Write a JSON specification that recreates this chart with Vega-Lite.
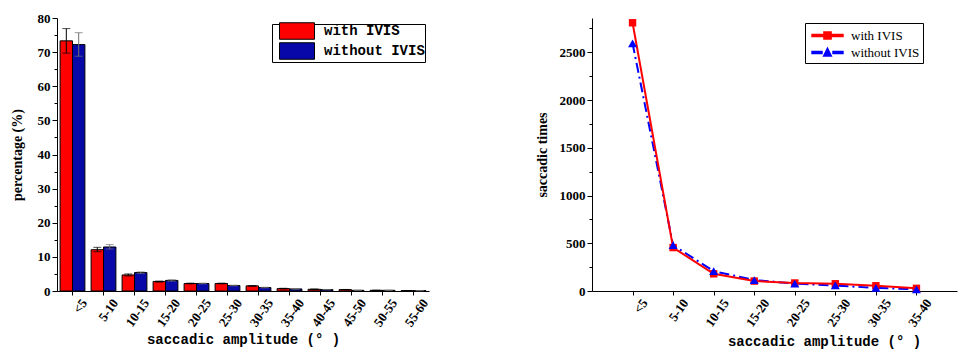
{
  "$schema": "https://vega.github.io/schema/vega-lite/v6.json",
  "background": "white",
  "padding": {"left": 10, "top": 12, "right": 2, "bottom": 0},
  "config": {"view": {"stroke": null}, "axis": {"labelOverlap": false}},
  "spacing": 104,
  "resolve": {"scale": {"color": "independent"}, "legend": {"color": "independent"}},
  "datasets": {
    "pct": [
      {"cat": "<5", "group": "with IVIS", "value": 73.3, "lo": 69.7, "hi": 76.9},
      {"cat": "<5", "group": "without IVIS", "value": 72.2, "lo": 68.8, "hi": 75.7},
      {"cat": "5-10", "group": "with IVIS", "value": 12.1, "lo": 11.5, "hi": 12.8},
      {"cat": "5-10", "group": "without IVIS", "value": 12.9, "lo": 12.3, "hi": 13.6},
      {"cat": "10-15", "group": "with IVIS", "value": 4.7, "lo": 4.4, "hi": 5.0},
      {"cat": "10-15", "group": "without IVIS", "value": 5.4, "lo": 5.1, "hi": 5.6},
      {"cat": "15-20", "group": "with IVIS", "value": 2.8, "lo": 2.6, "hi": 2.9},
      {"cat": "15-20", "group": "without IVIS", "value": 3.1, "lo": 2.9, "hi": 3.3},
      {"cat": "20-25", "group": "with IVIS", "value": 2.2, "lo": 2.1, "hi": 2.3},
      {"cat": "20-25", "group": "without IVIS", "value": 2.2, "lo": 2.1, "hi": 2.3},
      {"cat": "25-30", "group": "with IVIS", "value": 2.2, "lo": 2.1, "hi": 2.3},
      {"cat": "25-30", "group": "without IVIS", "value": 1.6, "lo": 1.5, "hi": 1.7},
      {"cat": "30-35", "group": "with IVIS", "value": 1.5, "lo": 1.4, "hi": 1.6},
      {"cat": "30-35", "group": "without IVIS", "value": 1.0, "lo": 0.9, "hi": 1.1},
      {"cat": "35-40", "group": "with IVIS", "value": 0.7, "lo": 0.6, "hi": 0.8},
      {"cat": "35-40", "group": "without IVIS", "value": 0.6, "lo": 0.5, "hi": 0.7},
      {"cat": "40-45", "group": "with IVIS", "value": 0.5, "lo": 0.4, "hi": 0.6},
      {"cat": "40-45", "group": "without IVIS", "value": 0.4, "lo": 0.35, "hi": 0.45},
      {"cat": "45-50", "group": "with IVIS", "value": 0.4, "lo": 0.35, "hi": 0.45},
      {"cat": "45-50", "group": "without IVIS", "value": 0.2, "lo": 0.15, "hi": 0.25},
      {"cat": "50-55", "group": "with IVIS", "value": 0.2, "lo": 0.15, "hi": 0.25},
      {"cat": "50-55", "group": "without IVIS", "value": 0.2, "lo": 0.15, "hi": 0.25},
      {"cat": "55-60", "group": "with IVIS", "value": 0.1, "lo": 0.05, "hi": 0.15},
      {"cat": "55-60", "group": "without IVIS", "value": 0.1, "lo": 0.05, "hi": 0.15}
    ],
    "times": [
      {"cat": "<5", "group": "with IVIS", "value": 2810},
      {"cat": "5-10", "group": "with IVIS", "value": 455},
      {"cat": "10-15", "group": "with IVIS", "value": 180},
      {"cat": "15-20", "group": "with IVIS", "value": 104},
      {"cat": "20-25", "group": "with IVIS", "value": 84},
      {"cat": "25-30", "group": "with IVIS", "value": 76},
      {"cat": "30-35", "group": "with IVIS", "value": 55},
      {"cat": "35-40", "group": "with IVIS", "value": 28},
      {"cat": "<5", "group": "without IVIS", "value": 2595},
      {"cat": "5-10", "group": "without IVIS", "value": 480},
      {"cat": "10-15", "group": "without IVIS", "value": 208},
      {"cat": "15-20", "group": "without IVIS", "value": 115},
      {"cat": "20-25", "group": "without IVIS", "value": 78},
      {"cat": "25-30", "group": "without IVIS", "value": 58},
      {"cat": "30-35", "group": "without IVIS", "value": 32},
      {"cat": "35-40", "group": "without IVIS", "value": 18}
    ]
  },
  "hconcat": [
    {
      "width": 372,
      "height": 273,
      "data": {"name": "pct"},
      "encoding": {
        "x": {
          "field": "cat", "type": "nominal",
          "sort": ["<5","5-10","10-15","15-20","20-25","25-30","30-35","35-40","40-45","45-50","50-55","55-60"],
          "scale": {"paddingInner": 0.2, "paddingOuter": 0.1},
          "axis": {
            "title": "saccadic amplitude (° )",
            "titleFont": "Liberation Mono", "titleFontSize": 14, "titleFontWeight": "bold", "titleColor": "#000",
            "titlePadding": 4,
            "labelFont": "Liberation Serif", "labelFontSize": 13, "labelFontWeight": "bold", "labelColor": "#000",
            "labelAngle": -55, "labelAlign": "right", "labelBaseline": "middle",
            "labelOffset": 12, "labelPadding": 5,
            "domainColor": "#000", "tickColor": "#000", "tickSize": 4
          }
        },
        "xOffset": {"field": "group", "type": "nominal", "sort": ["with IVIS", "without IVIS"]}
      },
      "layer": [
        {
          "mark": {"type": "bar", "stroke": "#000", "strokeWidth": 1},
          "encoding": {
            "y": {
              "field": "value", "type": "quantitative",
              "scale": {"domain": [0, 80], "nice": false},
              "axis": {
                "title": "percentage (%)",
                "titleFont": "Liberation Serif", "titleFontSize": 14, "titleFontWeight": "bold", "titleColor": "#000",
                "titlePadding": 13,
                "values": [0,5,10,15,20,25,30,35,40,45,50,55,60,65,70,75,80],
                "labelExpr": "datum.value % 10 === 0 ? datum.label : ''",
                "labelOverlap": false, "labelFlush": false,
                "labelFont": "Liberation Serif", "labelFontWeight": "bold", "labelColor": "#000", "labelFontSize": 13,
                "grid": false, "domainColor": "#000", "tickColor": "#000",
                "tickSize": {"condition": {"test": "datum.value % 10 === 0", "value": 5}, "value": 3}
              }
            },
            "color": {
              "field": "group", "type": "nominal",
              "scale": {"domain": ["with IVIS", "without IVIS"], "range": ["#ff0000", "#0808a8"]},
              "legend": {
                "title": null, "orient": "none", "legendX": 215, "legendY": 6,
                "strokeColor": "#000", "fillColor": "#fff", "padding": 0,
                "symbolType": "M-3.5,-1.65H3.5V1.65H-3.5Z", "symbolSize": 100,
                "symbolStrokeColor": "#000", "symbolStrokeWidth": 1,
                "symbolOffset": 18, "labelOffset": 20, "rowPadding": -2,
                "labelFont": "Liberation Mono", "labelFontSize": 14, "labelFontWeight": "bold", "labelColor": "#000"
              }
            }
          }
        },
        {
          "mark": {"type": "rule", "strokeWidth": 1},
          "encoding": {
            "y": {"field": "lo", "type": "quantitative", "scale": {"domain": [0, 80], "nice": false},
              "axis": {
                "title": "percentage (%)",
                "titleFont": "Liberation Serif", "titleFontSize": 14, "titleFontWeight": "bold", "titleColor": "#000",
                "titlePadding": 13,
                "values": [0,5,10,15,20,25,30,35,40,45,50,55,60,65,70,75,80],
                "labelExpr": "datum.value % 10 === 0 ? datum.label : ''",
                "labelOverlap": false, "labelFlush": false,
                "labelFont": "Liberation Serif", "labelFontWeight": "bold", "labelColor": "#000", "labelFontSize": 13,
                "grid": false, "domainColor": "#000", "tickColor": "#000",
                "tickSize": {"condition": {"test": "datum.value % 10 === 0", "value": 5}, "value": 3}
              }},
            "y2": {"field": "hi"},
            "color": {"condition": {"test": "datum.group === 'with IVIS'", "value": "#000"}, "value": "#707070"}
          }
        },
        {
          "mark": {"type": "tick", "orient": "horizontal", "size": 8, "thickness": 1},
          "encoding": {
            "y": {"field": "hi", "type": "quantitative", "scale": {"domain": [0, 80], "nice": false},
              "axis": {
                "title": "percentage (%)",
                "titleFont": "Liberation Serif", "titleFontSize": 14, "titleFontWeight": "bold", "titleColor": "#000",
                "titlePadding": 13,
                "values": [0,5,10,15,20,25,30,35,40,45,50,55,60,65,70,75,80],
                "labelExpr": "datum.value % 10 === 0 ? datum.label : ''",
                "labelOverlap": false, "labelFlush": false,
                "labelFont": "Liberation Serif", "labelFontWeight": "bold", "labelColor": "#000", "labelFontSize": 13,
                "grid": false, "domainColor": "#000", "tickColor": "#000",
                "tickSize": {"condition": {"test": "datum.value % 10 === 0", "value": 5}, "value": 3}
              }},
            "color": {"condition": {"test": "datum.group === 'with IVIS'", "value": "#000"}, "value": "#707070"}
          }
        },
        {
          "mark": {"type": "tick", "orient": "horizontal", "size": 8, "thickness": 1},
          "encoding": {
            "y": {"field": "lo", "type": "quantitative", "scale": {"domain": [0, 80], "nice": false},
              "axis": {
                "title": "percentage (%)",
                "titleFont": "Liberation Serif", "titleFontSize": 14, "titleFontWeight": "bold", "titleColor": "#000",
                "titlePadding": 13,
                "values": [0,5,10,15,20,25,30,35,40,45,50,55,60,65,70,75,80],
                "labelExpr": "datum.value % 10 === 0 ? datum.label : ''",
                "labelOverlap": false, "labelFlush": false,
                "labelFont": "Liberation Serif", "labelFontWeight": "bold", "labelColor": "#000", "labelFontSize": 13,
                "grid": false, "domainColor": "#000", "tickColor": "#000",
                "tickSize": {"condition": {"test": "datum.value % 10 === 0", "value": 5}, "value": 3}
              }},
            "color": {"condition": {"test": "datum.group === 'with IVIS'", "value": "#000"}, "value": "#707070"}
          }
        }
      ]
    },
    {
      "width": 365,
      "height": 273,
      "data": {"name": "times"},
      "encoding": {
        "x": {
          "field": "cat", "type": "ordinal",
          "sort": ["<5","5-10","10-15","15-20","20-25","25-30","30-35","35-40"],
          "scale": {"type": "point", "padding": 1},
          "axis": {
            "title": "saccadic amplitude (° )",
            "titleFont": "Liberation Mono", "titleFontSize": 14, "titleFontWeight": "bold", "titleColor": "#000",
            "titleX": 232, "titleAlign": "center", "titlePadding": 6,
            "labelFont": "Liberation Serif", "labelFontSize": 13, "labelFontWeight": "bold", "labelColor": "#000",
            "labelAngle": -55, "labelAlign": "right", "labelBaseline": "middle",
            "labelOffset": 12, "labelPadding": 5,
            "domainColor": "#000", "tickColor": "#000", "tickSize": 4
          }
        },
        "y": {
          "field": "value", "type": "quantitative",
          "scale": {"domain": [0, 2860], "nice": false},
          "axis": {
            "title": "saccadic times",
            "titleFont": "Liberation Serif", "titleFontSize": 14, "titleFontWeight": "bold", "titleColor": "#000",
            "titlePadding": 10,
            "values": [0,250,500,750,1000,1250,1500,1750,2000,2250,2500,2750],
            "labelExpr": "datum.value % 500 === 0 ? datum.label : ''",
            "labelOverlap": false,
            "format": "d",
            "labelFont": "Liberation Serif", "labelFontSize": 13, "labelFontWeight": "bold", "labelColor": "#000",
            "grid": false, "domainColor": "#000", "tickColor": "#000",
            "tickSize": {"condition": {"test": "datum.value % 500 === 0", "value": 5}, "value": 3}
          }
        },
        "color": {
          "field": "group", "type": "nominal",
          "scale": {"domain": ["with IVIS", "without IVIS"], "range": ["#ff0000", "#0000ff"]},
          "legend": {
            "title": null, "orient": "none", "legendX": 213, "legendY": 5,
            "strokeColor": "#000", "fillColor": "#fff", "padding": 3,
            "symbolSize": 289, "symbolOffset": 10, "labelOffset": 14, "rowPadding": 0,
            "labelFont": "Liberation Serif", "labelFontSize": 13, "labelColor": "#000",
            "encode": {
              "symbols": {
                "update": {
                  "shape": {"signal": "datum.label === 'with IVIS' ? 'M-1.82,-0.12H1.82V0.12H-1.82Z M-0.42,-0.42H0.42V0.42H-0.42Z' : 'M-1.82,-0.12H-0.65V0.12H-1.82Z M0,-0.5L0.45,0.4H-0.45Z M0.65,-0.12H1.82V0.12H0.65Z'"},
                  "fill": {"signal": "datum.label === 'with IVIS' ? '#ff0000' : '#0000ff'"},
                  "stroke": {"value": "transparent"},
                  "opacity": {"value": 1}
                }
              }
            }
          }
        }
      },
      "layer": [
        {
          "transform": [{"filter": "datum.group === 'without IVIS'"}],
          "mark": {"type": "line", "strokeWidth": 2, "strokeDash": [10, 4, 2, 4]}
        },
        {
          "transform": [{"filter": "datum.group === 'with IVIS'"}],
          "mark": {"type": "line", "strokeWidth": 2}
        },
        {
          "transform": [{"filter": "datum.group === 'with IVIS'"}],
          "mark": {"type": "point", "filled": true, "shape": "square", "size": 55, "opacity": 1}
        },
        {
          "transform": [{"filter": "datum.group === 'without IVIS'"}],
          "mark": {"type": "point", "filled": true, "shape": "triangle-up", "size": 80, "opacity": 1}
        }
      ]
    }
  ]
}
